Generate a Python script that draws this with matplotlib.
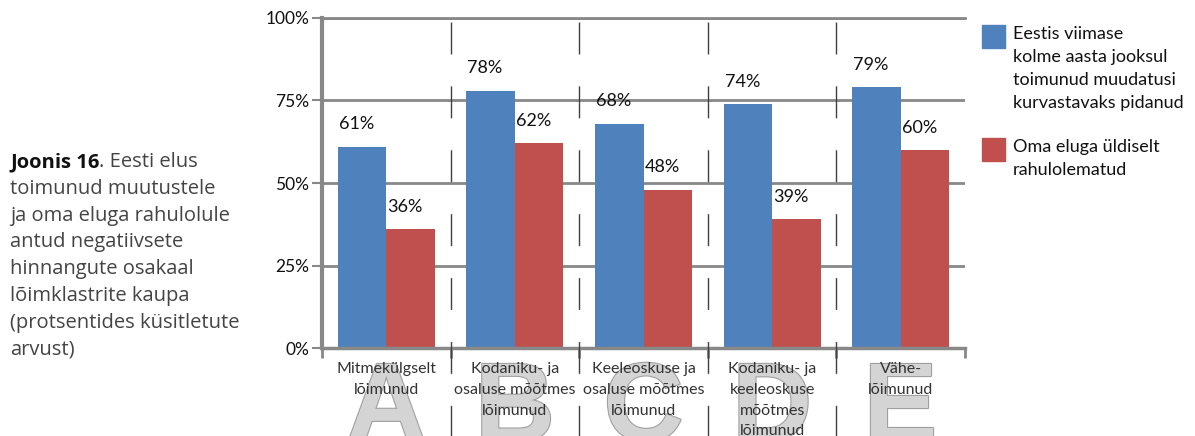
import matplotlib
matplotlib.use('Agg')
import matplotlib.pyplot as plt
import matplotlib.patheffects as pe
from matplotlib.patches import Rectangle
import numpy as np

# data
categories = ['Mitmekülgselt\nlõimunud',
              'Kodaniku- ja\nosaluse mõõtmes\nlõimunud',
              'Keeleoskuse ja\nosaluse mõõtmes\nlõimunud',
              'Kodaniku- ja\nkeeleoskuse\nmõõtmes\nlõimunud',
              'Vähe-\nlõimunud']
letters = ['A', 'B', 'C', 'D', 'E']
series_names = ['Eestis viimase\nkolme aasta jooksul\ntoimunud muudatusi\nkurvastavaks pidanud',
                'Oma eluga üldiselt\nrahulolematud']
sad_changes = [61, 78, 68, 74, 79]
dissatisfied = [36, 62, 48, 39, 60]
yticks = [0, 25, 50, 75, 100]
caption_bold = 'Joonis 16'
caption_lines = ['. Eesti elus', 'toimunud muutustele', 'ja oma eluga rahulolule',
                 'antud negatiivsete', 'hinnangute osakaal', 'lõimklastrite kaupa',
                 '(protsentides küsitletute', 'arvust)']

blue = '#4F81BD'
red = '#C0504D'
grid_col = '#888888'
plt.rcParams['font.family'] = ['Lato', 'DejaVu Sans']
plt.rcParams['lines.scale_dashes'] = False

W, H = 1195, 436
fig = plt.figure(figsize=(W / 100, H / 100), dpi=100)
ax = fig.add_axes([322 / W, 1 - 348 / H, (965 - 322) / W, 330 / H])

x = np.arange(len(categories))
w = 0.377
ax.bar(x - w / 2, sad_changes, w, color=blue, zorder=2)
ax.bar(x + w / 2, dissatisfied, w, color=red, zorder=2)

for xs, vals in [(x - w / 2, sad_changes), (x + w / 2, dissatisfied)]:
    for xi, v in zip(xs, vals):
        ax.annotate(f'{v}%', (xi, v), xytext=(-4, 16), textcoords='offset points',
                    ha='center', va='center', fontsize=13, color='#111111')

ax.set_xlim(-0.5, len(categories) - 0.5)
ax.set_ylim(0, 100)
ax.set_yticks(yticks)
ax.set_yticklabels([f'{t}%' for t in yticks], fontsize=12.5, color='#111111')
ax.yaxis.grid(True, color=grid_col, lw=2)
ax.set_axisbelow(True)
ax.tick_params(axis='y', length=7, width=1.5, color=grid_col, pad=2)

bounds = np.arange(len(categories) + 1) - 0.5
ax.set_xticks(bounds)
ax.set_xticklabels([])
ax.tick_params(axis='x', which='major', length=7, width=2, color=grid_col)
ax.set_xticks(x, minor=True)
ax.set_xticklabels(categories, minor=True, fontsize=11.5, color='#333333', linespacing=1.62)
ax.tick_params(axis='x', which='minor', length=0, pad=10)

ax.spines['right'].set_visible(False)
ax.spines['top'].set_color(grid_col)
ax.spines['top'].set_linewidth(2)
ax.spines['left'].set_color(grid_col)
ax.spines['left'].set_linewidth(3)
ax.spines['bottom'].set_color(grid_col)
ax.spines['bottom'].set_linewidth(2.5)

# dashed separators between clusters
for b in bounds[1:-1]:
    ax.plot([b, b], [98.8, -27], color='#404040', lw=1, linestyle=(0, (23, 23)),
            clip_on=False, zorder=3)

# big cluster letters behind the labels
for xi, L in zip(x, letters):
    ax.text(xi, -28, L, fontsize=80, fontweight='bold', family='Liberation Sans',
            color='#d4d4d4', ha='center', va='baseline', zorder=0.5, clip_on=False,
            path_effects=[pe.withStroke(linewidth=1.6, foreground='#a0a0a0')])

# legend drawn by hand
leg_y = [25, 138]
for name, col, yy in zip(series_names, [blue, red], leg_y):
    fig.patches.append(Rectangle((982 / W, 1 - (yy + 23) / H), 23 / W, 23 / H,
                                 transform=fig.transFigure, color=col))
    fig.text(1013 / W, 1 - (yy + 1) / H, name, fontsize=13, color='#111111',
             va='top', ha='left', linespacing=1.55)

# caption on the left
fig.canvas.draw()
r = fig.canvas.get_renderer()
cap_y0 = 162
step = 26.8
t = fig.text(10 / W, 1 - cap_y0 / H, caption_bold, fontsize=14.5, fontweight='bold',
             family='Open Sans', color='#111111', va='center', ha='left')
bb = t.get_window_extent(r)
for i, line in enumerate(caption_lines):
    xx = bb.x1 / W if i == 0 else 10 / W
    fig.text(xx, 1 - (cap_y0 + i * step) / H, line, fontsize=14.5, family='Open Sans',
             color='#444444', va='center', ha='left')

fig.savefig('out.png', dpi=100)
